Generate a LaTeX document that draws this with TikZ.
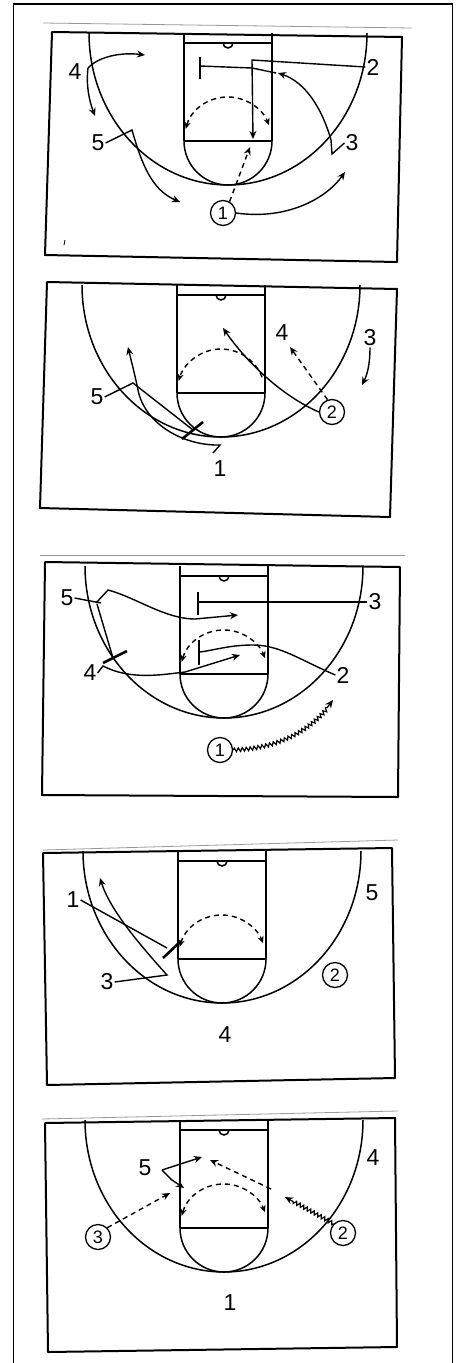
\documentclass[tikz,border=0pt]{standalone}
\usepackage{fontspec}
\setmainfont{Liberation Sans}
\usetikzlibrary{arrows.meta,decorations.pathmorphing,calc}
\begin{document}
\begin{tikzpicture}[x=1pt,y=-1pt,
  cline/.style={line width=1.5pt},
  frame/.style={line width=2pt, line join=round},
  faint/.style={line width=0.8pt, black!40},
  mv/.style={line width=1.4pt, -{Stealth[length=8pt,width=7pt]}},
  pass/.style={mv, dash pattern=on 5pt off 4pt},
  scr/.style={line width=1.4pt},
  bar/.style={line width=2.6pt},
  darc/.style={line width=1.4pt, dash pattern=on 5pt off 4pt},
  tipb/.style={{Stealth[length=7pt,width=6pt]}-{Stealth[length=7pt,width=6pt]}},
  tipl/.style={-{Stealth[length=7pt,width=6pt]}},
  pl/.style={font=\fontsize{23}{23}\selectfont, inner sep=1pt},
  plc/.style={circle, draw, line width=1.3pt, minimum size=25pt, inner sep=0pt, font=\fontsize{18}{18}\selectfont},
  dribble/.style={line width=1.2pt, decorate, decoration={snake, amplitude=1.8pt, segment length=4pt, post length=8pt}, -{Stealth[length=8pt,width=7pt]}},
  court/.pic={
    \draw[cline] (-44,0) -- (-44,108) (44,0) -- (44,108) (-44,10) -- (44,10) (-44,108) -- (44,108);
    \draw[cline] (-5,10) arc (180:0:5);
    \draw[cline] (-44,108) arc (180:0:44);
    \draw[cline] (-139,0) arc (180:0:139 and 152);
  }]
\useasboundingbox (0,0) rectangle (456,1363);
% outer frame
\draw[line width=1.6pt] (13.5,1363) -- (13.5,4) -- (452.5,4) -- (452.5,1363);

% ================= Court 1 =================
\draw[faint] (43,23) -- (412,28);
\draw[frame] (52,32) -- (402,37) -- (397,262) -- (45,255) -- cycle;
\pic at (228,33) {court};
\coordinate (k1) at (228,141);
\draw[darc,tipb] ($(k1)+(196:44)$) arc (196:339:44);
\node[pl] (a4) at (75,72) {4};
\node[pl] (a2) at (373,67) {2};
\node[pl] (a5) at (98,143) {5};
\node[pl] (a3) at (352,143) {3};
\node[plc] (a1) at (223,213) {1};
\coordinate (a4s) at (88,68);
\draw[mv] (a4s) .. controls (98,57) and (120,52) .. (145,55);
\draw[mv] (a4s) .. controls (86,85) and (89,100) .. (95,116);
\draw[mv] (a5.east) -- (132,130) .. controls (142,165) and (152,190) .. (180,202);
\draw[mv] (a3.west) -- (332,154) -- (331,140) .. controls (322,108) and (305,82) .. (278,73);
\draw[mv] (a2.west) -- (252,60) -- (253,139);
\draw[bar] (200,57) -- (200,79);
\draw[scr] (200,66) -- (252,68) -- (276,73);
\draw[pass] (a1.60) -- (250,147);
\draw[mv] (a1.east) .. controls (285,220) and (325,200) .. (345,172);
\draw[line width=0.8pt] (65,240) -- (64,245);

% ================= Court 2 =================
\draw[frame] (47,282) -- (397,289) -- (390,517) -- (40,508) -- cycle;
\pic at (221,285) {court};
\coordinate (k2) at (221,393);
\draw[darc,tipl] ($(k2)+(339:44)$) arc (339:196:44);
\node[pl] (b4) at (282,333) {4};
\node[pl] (b3) at (370,338) {3};
\node[pl] (b5) at (97,397) {5};
\node[plc] (b2) at (332,412) {2};
\node[pl] (b1) at (220,469) {1};
\draw[mv] (b3.south) .. controls (370,365) and (367,375) .. (362,385);
\draw[pass] (b2.110) -- (290,347);
\draw[mv] (b2.west) .. controls (280,395) and (245,360) .. (223,328);
\draw[scr] (b5.east) -- (133,383) -- (193,430);
\draw[bar] (182,439) -- (203,422);
\coordinate (b1s) at (213,453);
\draw[mv] (b1s) -- (220,445) .. controls (185,446) and (145,425) .. (138,390) .. controls (135,375) and (131,360) .. (128,347);

% ================= Court 3 =================
\draw[faint] (40,555) -- (405,555);
\draw[frame] (45,562) -- (400,567) -- (398,797) -- (42,795) -- cycle;
\pic at (224,566) {court};
\coordinate (k3) at (224,674);
\draw[darc,tipb] ($(k3)+(196:44)$) arc (196:339:44);
\node[pl] (c5) at (67,598) {5};
\node[pl] (c3) at (375,602) {3};
\node[pl] (c4) at (90,673) {4};
\node[pl] (c2) at (343,675) {2};
\node[plc] (c1) at (220,750) {1};
\draw[scr] (c3.west) -- (198,602);
\draw[bar] (198,592) -- (198,615);
\draw[scr] (c5.east) -- (101,603);
\draw[mv] (96,603) -- (108,590) .. controls (135,597) and (165,619) .. (195,619) -- (238,615);
\draw[scr] (97,604) -- (113,658);
\draw[bar] (103,663) -- (127,651);
\draw[mv] (c4.east) -- (103,666) .. controls (130,680) and (160,675) .. (185,672) -- (240,655);
\draw[scr] (c2.west) .. controls (300,660) and (280,645) .. (253,645) .. controls (230,645) and (215,650) .. (200,652);
\draw[bar] (199,640) -- (199,665);
\draw[dribble] (c1.east) .. controls (285,748) and (315,725) .. (333,700);

% ================= Court 4 =================
\draw[faint] (43,850) -- (398,840);
\draw[frame] (43,853) -- (392,848) -- (395,1078) -- (47,1085) -- cycle;
\pic at (222,851) {court};
\coordinate (k4) at (222,959);
\draw[darc,tipb] ($(k4)+(196:44)$) arc (196:339:44);
\node[pl] (d1) at (73,900) {1};
\node[pl] (d5) at (372,893) {5};
\node[pl] (d3) at (107,982) {3};
\node[plc] (d2) at (335,975) {2};
\node[pl] (d4) at (225,1035) {4};
\draw[scr] (d1.east) -- (167,948);
\draw[bar] (163,958) -- (181,941);
\draw[mv] (d3.east) -- (167,975) .. controls (140,945) and (110,910) .. (100,878);

% ================= Court 5 =================
\draw[faint] (42,1119) -- (398,1111);
\draw[frame] (45,1123) -- (395,1118) -- (397,1347) -- (48,1352) -- cycle;
\pic at (224,1120) {court};
\coordinate (k5) at (224,1228);
\draw[darc,tipb] ($(k5)+(196:44)$) arc (196:339:44);
\node[pl] (e5) at (145,1168) {5};
\node[pl] (e4) at (373,1158) {4};
\node[plc] (e3) at (98,1237) {3};
\node[plc] (e2) at (343,1233) {2};
\node[pl] (e1) at (230,1303) {1};
\coordinate (e5s) at (162,1170);
\draw[mv] (e5s) -- (202,1157);
\draw[mv] (e5s) -- (172,1180) -- (184,1188);
\draw[pass] (e3.north east) -- (170,1193);
\coordinate (e2p) at (271,1189);
\draw[pass] (e2p) -- (210,1160);
\draw[dribble] (e2.north west) -- (285,1197);
\end{tikzpicture}
\end{document}
